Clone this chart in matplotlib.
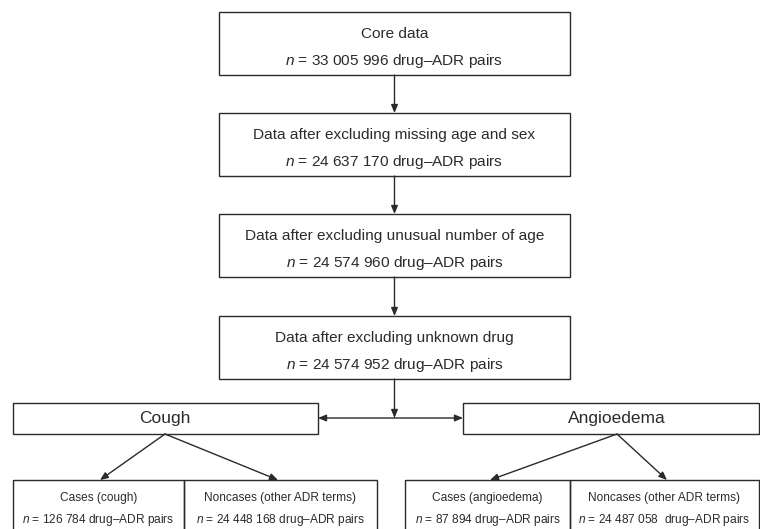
import matplotlib
matplotlib.use("Agg")
import matplotlib.pyplot as plt
from matplotlib.patches import Rectangle, FancyArrowPatch

plt.rcParams['font.family'] = ['Liberation Sans', 'DejaVu Sans']
plt.rcParams['mathtext.fontset'] = 'custom'
plt.rcParams['mathtext.it'] = 'Liberation Sans:italic'
plt.rcParams['mathtext.rm'] = 'Liberation Sans'

# ---- data ----
step_titles = ["Core data",
               "Data after excluding missing age and sex",
               "Data after excluding unusual number of age",
               "Data after excluding unknown drug"]
step_counts = ["33 005 996", "24 637 170", "24 574 960", "24 574 952"]
group_titles = ["Cough", "Angioedema"]
sub_titles = [["Cases (cough)", "Noncases (other ADR terms)"],
              ["Cases (angioedema)", "Noncases (other ADR terms)"]]
sub_counts = [["126 784", "24 448 168"], ["87 894", "24 487 058 "]]
unit = "drug–ADR pairs"

EC = "#2a2a2a"
TC = "#2b2b2b"

fig = plt.figure(figsize=(7.6, 5.29), dpi=100)
ax = fig.add_axes([0, 0, 1, 1])
ax.set_xlim(0, 760)
ax.set_ylim(529, 0)
ax.axis("off")

def box(x0, y0, x1, y1):
    ax.add_patch(Rectangle((x0, y0), x1 - x0, y1 - y0, fill=False,
                           edgecolor=EC, linewidth=1.0))

def arrow(p0, p1):
    ax.add_patch(FancyArrowPatch(p0, p1, arrowstyle="-|>,head_length=4.8,head_width=2.0",
                                 color=EC, linewidth=1.0, shrinkA=0, shrinkB=0,
                                 mutation_scale=1.0))

def nline(count):
    return r"$\it{n}$" + " = " + count + " " + unit

# main column
bx0, bx1 = 219, 570
cx = (bx0 + bx1) / 2
tops = [12, 113, 214, 316]
bh = 63
for i, (t, c) in enumerate(zip(step_titles, step_counts)):
    y0 = tops[i]
    box(bx0, y0, bx1, y0 + bh)
    ax.text(cx, y0 + 22, t, ha="center", va="center", fontsize=11.1, color=TC)
    ax.text(cx, y0 + 49, nline(c), ha="center", va="center", fontsize=11.1, color=TC)
    if i < len(step_titles) - 1:
        arrow((cx, y0 + bh), (cx, tops[i + 1]))

# split level
gy0, gy1 = 403, 434
gmid = 418
gboxes = [(13, 318), (463, 759)]
arrow((cx, tops[-1] + bh), (cx, gmid))
arrow((cx, gmid), (gboxes[0][1], gmid))
arrow((cx, gmid), (gboxes[1][0], gmid))

gcent = [165, 617]
for (x0, x1), t, gc in zip(gboxes, group_titles, gcent):
    box(x0, gy0, x1, gy1)
    ax.text(gc, gmid, t, ha="center", va="center", fontsize=12.5, color=TC)

# bottom boxes
sy0, sy1 = 480, 540
sub_edges = [(13, 184, 377), (405, 570, 759)]
tips = [(100, 278), (490, 667)]
for g in range(2):
    l, m, r = sub_edges[g]
    box(l, sy0, m, sy1)
    box(m, sy0, r, sy1)
    for k, (a, b) in enumerate([(l, m), (m, r)]):
        xc = (a + b) / 2
        ax.text(xc, 498, sub_titles[g][k], ha="center", va="center", fontsize=8.6, color=TC)
        ax.text(xc, 520, nline(sub_counts[g][k]), ha="center", va="center",
                fontsize=8.6, color=TC)
    arrow((gcent[g], gy1), (tips[g][0], sy0))
    arrow((gcent[g], gy1), (tips[g][1], sy0))

fig.savefig("out.png", dpi=100, facecolor="white")
